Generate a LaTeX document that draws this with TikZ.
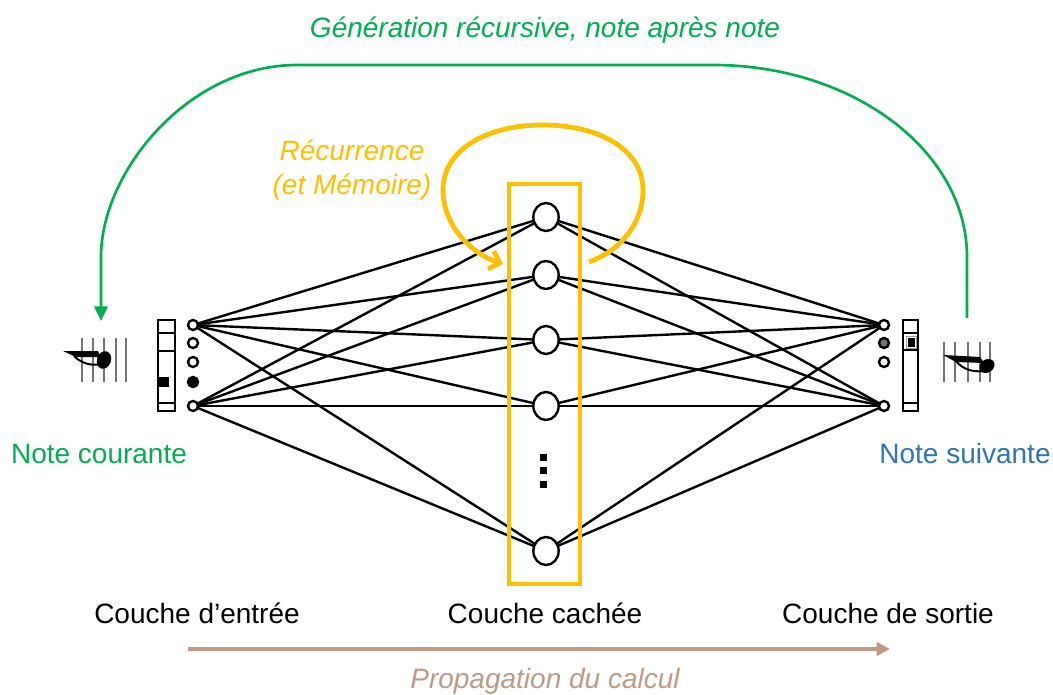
\documentclass[tikz,border=0pt]{standalone}
\usepackage{fontspec}
\setmainfont{Liberation Sans}
\usetikzlibrary{arrows.meta,shapes.geometric}
\definecolor{gold}{HTML}{FFC000}
\definecolor{vert}{HTML}{00B050}
\definecolor{bleu}{HTML}{2E75B6}
\definecolor{brun}{HTML}{C09A84}
\tikzset{
  txt/.style={font=\fontsize{21}{25}\selectfont, anchor=base, inner sep=0pt},
  unit/.style={circle, draw=black, line width=1.8pt, fill=white, minimum size=7.5pt, inner sep=0pt},
  hid/.style={ellipse, draw=black, line width=1.8pt, fill=white, minimum width=19pt, minimum height=21pt, inner sep=0pt},
  edge/.style={draw=black, line width=1.8pt},
  bar/.style={draw=black, line width=1.8pt, fill=white},
  staff/.style={draw=black!55, line width=2pt},
}
\begin{document}
\begin{tikzpicture}[x=0.75pt,y=-0.75pt]
\useasboundingbox (0,0) rectangle (1053,695);
\fill[white] (0,0) rectangle (1053,695);

% green recursive arc
\draw[vert, line width=2pt, -{Triangle[length=11pt,width=10pt]}]
  (967,318) -- (967,257) .. controls (967,151) and (853,65) .. (713,65)
  -- (297,65) .. controls (189,65) and (101,171) .. (101,257) -- (101,321);
\node[txt, vert, font=\fontsize{21}{25}\selectfont\itshape] (titre) at (545,38) {Génération récursive, note après note};

% edges (drawn first, nodes on top)
\coordinate (i1) at (193,325);
\coordinate (i5) at (193,406);
\coordinate (o1) at (884,325);
\coordinate (o4) at (884,406);
\coordinate (h1) at (546,217);
\coordinate (h2) at (546,275);
\coordinate (h3) at (546,340);
\coordinate (h4) at (546,406);
\coordinate (h5) at (546,551);
\foreach \h in {h1,h2,h3,h4,h5}{
  \draw[edge] (i1) -- (\h);
  \draw[edge] (i5) -- (\h);
  \draw[edge] (\h) -- (o1);
  \draw[edge] (\h) -- (o4);
}

% hidden layer box
\draw[gold, line width=3.6pt] (509,184) rectangle (580,584);

% hidden nodes
\foreach \h in {h1,h2,h3,h4,h5}{
  \node[hid] (n\h) at (\h) {};
}
\foreach \yy in {457,470,484}{
  \fill[black] (540,\yy-3.5) rectangle (547,\yy+3.5);
}

% recurrence loop
\draw[gold, line width=3.6pt, -{Straight Barb[length=7pt,width=14pt]}]
  (589,262) .. controls (622,250) and (643,222) .. (643,190)
  .. controls (643,150) and (600,125) .. (543,125)
  .. controls (486,125) and (443,150) .. (443,190)
  .. controls (443,226) and (472,254) .. (503,264);
\node[txt, gold, font=\fontsize{21}{25}\selectfont\itshape] (rec1) at (352,161) {Récurrence};
\node[txt, gold, font=\fontsize{21}{25}\selectfont\itshape] (rec2) at (352,195) {(et Mémoire)};

% input units
\node[unit] (in1) at (i1) {};
\node[unit] (in2) at (193,343) {};
\node[unit] (in3) at (193,362) {};
\node[unit, fill=black] (in4) at (193,382) {};
\node[unit] (in5) at (i5) {};
% output units
\node[unit] (out1) at (o1) {};
\node[unit, fill=black!55] (out2) at (884,343) {};
\node[unit] (out3) at (884,362) {};
\node[unit] (out4) at (o4) {};

% input vector bar
\draw[bar] (158,320) rectangle (175,411);
\draw[line width=1.8pt] (158,333) -- (175,333);
\draw[line width=1.8pt] (158,351) -- (175,351);
\draw[line width=1.8pt] (158,403) -- (175,403);
\fill[black] (159,377) rectangle (169,387);

% output vector bar
\draw[bar] (903,320) rectangle (918,411);
\draw[line width=1.8pt] (903,333) -- (918,333);
\draw[line width=1.8pt] (903,350) -- (918,350);
\draw[line width=1.8pt] (903,403) -- (918,403);
\draw[black!40, line width=0.6pt] (906,336) rectangle (916,348);
\fill[black] (907.5,337.5) rectangle (914.5,346.5);

% left note
\foreach \xx in {82,93,104,116,126}{ \draw[staff] (\xx,338) -- (\xx,382); }
\fill[black] (63,351) -- (98,351) -- (100,357) -- (76,357) -- cycle;
\draw[black, line width=1.5pt] (74,356) .. controls (82,364) and (92,366) .. (102,364);
\fill[black, rotate around={-20:(104,360)}] (104,360) ellipse (7 and 9);

% right note
\foreach \xx in {944,955,968,980,990}{ \draw[staff] (\xx,342) -- (\xx,382); }
\fill[black] (943,355) -- (980,357) -- (984,363) -- (956,362) -- cycle;
\draw[black, line width=1.5pt] (956,361) .. controls (964,371) and (975,372) .. (985,371);
\fill[black, rotate around={35:(987,366)}] (987,366) ellipse (8 and 6.5);

% labels
\node[txt, vert] (cour) at (99,463) {Note courante};
\node[txt, bleu] (suiv) at (965,463) {Note suivante};
\node[txt] (lin) at (197,623) {Couche d’entrée};
\node[txt] (lhid) at (545,623) {Couche cachée};
\node[txt] (lout) at (888,623) {Couche de sortie};

% propagation arrow
\coordinate (pa) at (188,649);
\coordinate (pb) at (890,649);
\draw[brun, line width=2.6pt, -{Triangle[length=10pt,width=10pt]}] (pa) -- (pb);
\node[txt, brun, font=\fontsize{21}{25}\selectfont\itshape] (prop) at (545,688) {Propagation du calcul};
\end{tikzpicture}
\end{document}
